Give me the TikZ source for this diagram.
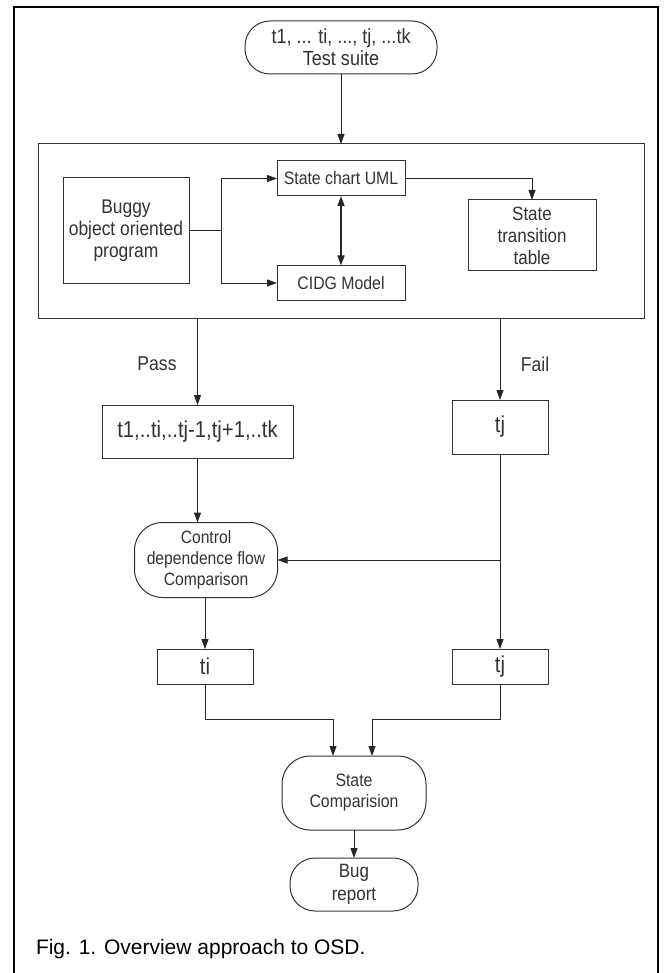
\documentclass[tikz,border=0pt]{standalone}
\usepackage{fontspec}
\setmainfont{Liberation Sans}
\newfontfamily\narrowfont{Liberation Sans}[FakeStretch=0.88]
\usetikzlibrary{arrows.meta}
\begin{document}
\begin{tikzpicture}[x=1pt,y=-1pt,
  every node/.style={inner sep=0pt,outer sep=0pt,align=center,text=black!80},
  box/.style={draw=black!80,line width=1pt,fill=white},
  term/.style={draw=black!80,line width=1pt,rounded corners=25pt,fill=white},
  conn/.style={draw=black!85,line width=1pt},
  arr/.style={conn,-{Triangle[length=10pt,width=7pt]}},
  fs/.style={font=\narrowfont\fontsize{#1}{22}\selectfont},
  big/.style={font=\narrowfont\fontsize{23}{24}\selectfont}]
\useasboundingbox (0,0) rectangle (668,973);
% outer frame
\draw[line width=1.8pt] (14,980) -- (14,7) -- (658,7) -- (658,980);
% nodes
\node[term,fs=20.5,minimum width=192pt,minimum height=53pt] (ts) at (341,47.5) {t1, ... ti, ..., tj, ...tk\\Test suite};
\node[box,minimum width=606pt,minimum height=174pt] (main) at (341,231) {};
\node[box,fs=19.8,minimum width=126pt,minimum height=105pt] (bug) at (126,230.5) {Buggy\\object oriented\\program};
\node[box,fs=18,minimum width=128pt,minimum height=35pt] (uml) at (341,178.5) {State chart UML};
\node[box,fs=18,minimum width=128pt,minimum height=35pt] (cidg) at (341,283) {CIDG Model};
\node[box,fs=19.3,minimum width=128pt,minimum height=71pt] (stt) at (532,235.5) {State\\transition\\table};
\node[box,big,minimum width=191pt,minimum height=53pt] (pass) at (197.5,431.5) {t1,..ti,..tj-1,tj+1,..tk};
\node[box,big,minimum width=96pt,minimum height=54pt] (tja) at (500,427) {tj};
\node[term,font=\narrowfont\fontsize{17.8}{21}\selectfont,minimum width=143pt,minimum height=75pt,rounded corners=28pt] (ctrl) at (206,560) {Control\\dependence flow\\Comparison};
\node[box,big,minimum width=96pt,minimum height=35pt] (ti) at (205,666.5) {ti};
\node[box,big,minimum width=96pt,minimum height=35pt] (tjb) at (500,666.5) {tj};
\node[term,font=\narrowfont\fontsize{18}{21}\selectfont,minimum width=144pt,minimum height=74pt,rounded corners=28pt] (sc) at (354,793) {State\\Comparision};
\node[term,font=\narrowfont\fontsize{19.3}{23}\selectfont,minimum width=128pt,minimum height=53pt] (br) at (354,884.5) {Bug\\report};
\node[fs=20,anchor=center] (lpass) at (157,364) {Pass};
\node[fs=20,anchor=center] (lfail) at (535,364) {Fail};
\node[font=\fontsize{21}{24}\selectfont,anchor=west,text=black] (cap) at (36,949) {Fig. 1. Overview approach to OSD.};
% coordinates
\coordinate (j1) at (221,230.5);
\coordinate (fb) at (500,318);
\coordinate (pb) at (197.5,318);
\coordinate (br1) at (500,560);
\coordinate (m1) at (205,719);
\coordinate (m2) at (500,719);
\coordinate (e1) at (333,719);
\coordinate (e2) at (372,719);
% connectors
\draw[arr] (ts.south) -- (ts.south |- main.north);
\draw[conn,line width=1.6pt] (bug.east) -- (j1);
\draw[arr] (j1) |- (uml.west);
\draw[arr] (j1) |- (cidg.west);
\draw[arr] (uml.east) -| (stt.north);
\draw[conn,line width=1.6pt,{Triangle[length=10pt,width=7pt]}-{Triangle[length=10pt,width=7pt]}] (uml.south) -- (cidg.north);
\draw[arr] (pb) -- (pass.north);
\draw[arr] (fb) -- (tja.north);
\draw[arr] (pass.south) -- (pass.south |- ctrl.north);
\draw[arr] (tja.south) -- (tjb.north);
\draw[arr] (br1) -- (ctrl.east);
\draw[arr] (ctrl.south -| ti.north) -- (ti.north);
\draw[arr] (ti.south) -- (m1) -- (e1) -- (e1 |- sc.north);
\draw[arr] (tjb.south) -- (m2) -- (e2) -- (e2 |- sc.north);
\draw[arr] (sc.south) -- (br.north);
\end{tikzpicture}
\end{document}
